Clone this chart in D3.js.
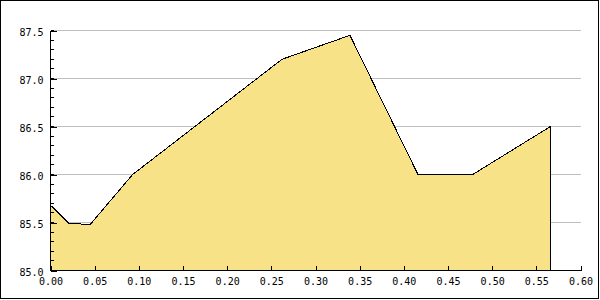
<!DOCTYPE html>
<html>
<head>
<meta charset="utf-8">
<script src="https://cdn.jsdelivr.net/npm/d3@7"></script>
<style>
  html, body { margin: 0; padding: 0; background: #fff; }
  svg text { font-family: "DejaVu Sans Mono", monospace; font-size: 10px; fill: #000; }
</style>
</head>
<body>
<div id="chart"></div>
<script>
// values
const xValues = [0.000, 0.021, 0.045, 0.093, 0.262, 0.339, 0.416, 0.478, 0.566];
const yValues = [85.68, 85.49, 85.48, 86.00, 87.20, 87.45, 86.00, 86.00, 86.50];
const xTicks = [0.00, 0.05, 0.10, 0.15, 0.20, 0.25, 0.30, 0.35, 0.40, 0.45, 0.50, 0.55, 0.60];
const yTicks = [85.0, 85.5, 86.0, 86.5, 87.0, 87.5];
const yMinorTicks = d3.range(85.0, 87.55, 0.1);

const width = 600, height = 300;

let svg = d3.select("#chart").append("svg")
    .attr("width", width)
    .attr("height", height);

// frame round the whole picture
svg.append("rect")
    .attr("x", 0.5).attr("y", 0.5)
    .attr("width", 598).attr("height", 298)
    .attr("fill", "#fff")
    .attr("stroke", "#000")
    .attr("shape-rendering", "crispEdges");

let x = d3.scaleLinear().domain([0, 0.6]).range([50.5, 580.5]);
let y = d3.scaleLinear().domain([85, 87.5]).range([270.5, 30.5]);

// grid lines
svg.append("g").selectAll("line")
    .data(yTicks.slice(1))
    .enter().append("line")
    .attr("x1", x(0)).attr("x2", x(0.6))
    .attr("y1", d => y(d)).attr("y2", d => y(d))
    .attr("stroke", "#c0c0c0")
    .attr("shape-rendering", "crispEdges");

// area
let data = xValues.map((v, i) => [v, yValues[i]]);
let area = d3.area()
    .x(d => x(d[0]))
    .y0(y(85))
    .y1(d => y(d[1]));

svg.append("path")
    .datum(data)
    .attr("d", area)
    .attr("fill", "#f7e288")
    .attr("stroke", "#000")
    .attr("stroke-width", 1)
    .attr("stroke-linejoin", "miter")
    .attr("shape-rendering", "crispEdges");

// y axis
let yAxis = d3.axisLeft(y)
    .tickValues(yTicks)
    .tickSize(-6)
    .tickPadding(7)
    .tickFormat(d3.format(".1f"));
let yg = svg.append("g")
    .attr("transform", "translate(" + x(0) + ",0)")
    .call(yAxis);
yg.selectAll("text").attr("dy", "0.5em");

// minor ticks on y axis
svg.append("g").selectAll("line")
    .data(yMinorTicks)
    .enter().append("line")
    .attr("x1", x(0)).attr("x2", x(0) + 3)
    .attr("y1", d => y(d)).attr("y2", d => y(d))
    .attr("stroke", "#000")
    .attr("shape-rendering", "crispEdges");

// x axis
let xAxis = d3.axisBottom(x)
    .tickValues(xTicks)
    .tickSize(-5)
    .tickPadding(7)
    .tickFormat(d3.format(".2f"));
let xg = svg.append("g")
    .attr("transform", "translate(0," + y(85) + ")")
    .call(xAxis);

[yg, xg].forEach(g => {
    g.selectAll("path.domain").attr("stroke", "#000").attr("shape-rendering", "crispEdges");
    g.selectAll(".tick line").attr("stroke", "#000").attr("shape-rendering", "crispEdges");
    g.selectAll("text")
        .attr("fill", "#000")
        .style("font-family", "'DejaVu Sans Mono', monospace")
        .style("font-size", "10px");
});
// remove outer tick stubs of the domain paths
yg.select("path.domain").attr("d", "M0," + y(87.5) + "V" + y(85));
xg.select("path.domain").attr("d", "M" + x(0) + ",0H" + x(0.6));
</script>
</body>
</html>
